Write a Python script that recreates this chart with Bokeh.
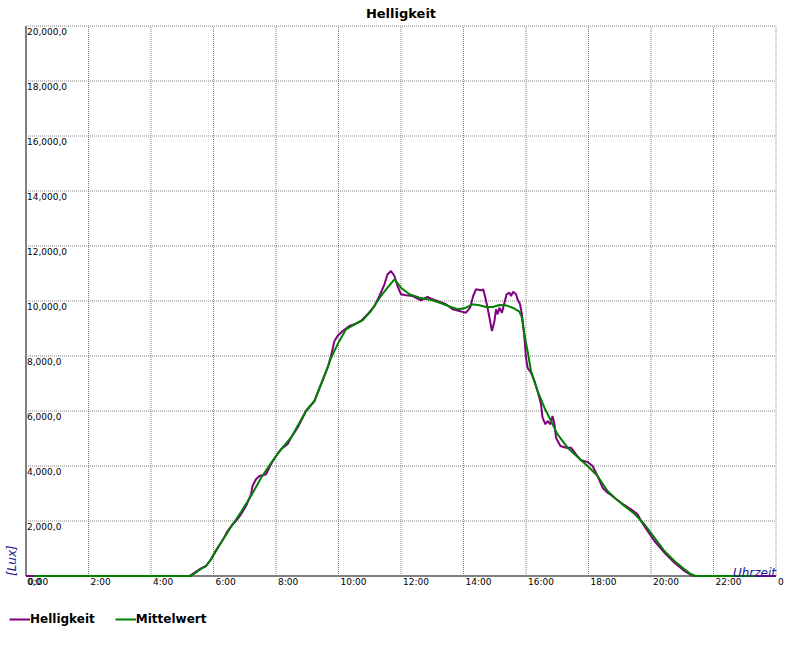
import math
from bokeh.plotting import figure
from bokeh.models import (Range1d, ColumnDataSource, LabelSet, Label, Legend, LegendItem)
from bokeh.core.properties import value
from bokeh.embed import file_html
from bokeh.resources import INLINE

# ---- data (hours of day, lux) ----
hell_t = [0.0, 5.22, 5.28, 5.60, 5.76, 5.92, 6.08, 6.24, 6.35, 6.45, 6.61, 6.72, 6.88, 7.04,
          7.20, 7.25, 7.36, 7.47, 7.57, 7.68, 7.84, 8.00, 8.16, 8.37, 8.48, 8.69, 8.96, 9.23,
          9.44, 9.65, 9.76, 9.87, 9.97, 10.13, 10.35, 10.56, 10.72, 10.93, 11.15, 11.31,
          11.47, 11.57, 11.68, 11.79, 11.89, 12.00, 12.16, 12.37, 12.64, 12.85, 13.01, 13.23,
          13.44, 13.65, 13.87, 14.08, 14.21, 14.31, 14.40, 14.56, 14.63, 14.70, 14.77, 14.85,
          14.91, 14.99, 15.04, 15.09, 15.15, 15.23, 15.31, 15.38, 15.47, 15.52, 15.59, 15.68,
          15.73, 15.81, 15.87, 15.95, 16.00, 16.05, 16.16, 16.27, 16.37, 16.48, 16.53, 16.62,
          16.69, 16.78, 16.85, 16.91, 16.96, 17.10, 17.28, 17.44, 17.60, 17.76, 17.97, 18.13,
          18.29, 18.45, 18.61, 18.72, 19.04, 19.36, 19.57, 19.68, 19.89, 20.11, 20.43, 20.75,
          21.07, 21.28, 21.38, 24.0]
hell_v = [0, 0, 36, 280, 364, 607, 909, 1211, 1418, 1636, 1880, 2000, 2243, 2545,
          2971, 3273, 3516, 3636, 3662, 3698, 4062, 4364, 4607, 4789, 5029, 5393, 6000, 6364,
          6971, 7574, 8000, 8545, 8727, 8909, 9091, 9174, 9273, 9516, 9818, 10182,
          10607, 10970, 11091, 10909, 10545, 10243, 10207, 10182, 10025, 10145, 10062, 9975,
          9880, 9698, 9636, 9575, 9756, 10182, 10425, 10389, 10425, 10120, 9756, 9273,
          8909, 9273, 9698, 9516, 9756, 9575, 9938, 10244, 10302, 10182, 10338, 10244,
          10062, 9880, 9516, 8665, 7938, 7574, 7392, 7091, 6727, 6243, 5756, 5516,
          5636, 5516, 5818, 5516, 5029, 4727, 4665, 4665, 4425, 4207, 4145, 4000,
          3636, 3211, 3029, 2945, 2665, 2425, 2243, 2000, 1636, 1273, 847, 484,
          182, 36, 0, 0]

mittel_t = [0.26, 5.28, 5.60, 5.76, 5.92, 6.08, 6.24, 6.56, 6.88, 7.20, 7.52, 7.84, 8.16,
            8.48, 8.96, 9.23, 9.44, 9.65, 9.76, 9.97, 10.24, 10.61, 10.77, 11.04, 11.36,
            11.57, 11.79, 12.00, 12.27, 12.59, 13.01, 13.33, 13.60, 13.81, 14.03, 14.29,
            14.51, 14.72, 14.93, 15.15, 15.36, 15.57, 15.79, 15.87, 15.95, 16.05, 16.16,
            16.37, 16.59, 16.80, 17.01, 17.33, 17.65, 17.97, 18.29, 18.61, 18.83, 19.15,
            19.47, 19.79, 20.11, 20.43, 20.75, 21.07, 21.28, 21.44, 23.30]
mittel_v = [0, 0, 255, 364, 607, 945, 1211, 1782, 2327, 2909, 3564, 4109, 4607,
            5029, 6000, 6364, 6971, 7574, 7927, 8425, 8970, 9210, 9298, 9636, 10182,
            10483, 10789, 10483, 10243, 10120, 10025, 9902, 9782, 9698, 9734, 9880,
            9843, 9782, 9782, 9855, 9843, 9756, 9611, 9393, 8789, 8182, 7455,
            6727, 6120, 5636, 5152, 4665, 4327, 4000, 3636, 3091, 2847, 2545,
            2265, 1880, 1393, 909, 545, 244, 62, 0, 0]

x_ticks = [0, 2, 4, 6, 8, 10, 12, 14, 16, 18, 20, 22, 24]
x_tick_labels = ["0:00", "2:00", "4:00", "6:00", "8:00", "10:00", "12:00", "14:00",
                 "16:00", "18:00", "20:00", "22:00", "0:00"]
y_ticks = [0, 2000, 4000, 6000, 8000, 10000, 12000, 14000, 16000, 18000, 20000]
y_tick_labels = ["0,0", "2,000,0", "4,000,0", "6,000,0", "8,000,0", "10,000,0",
                 "12,000,0", "14,000,0", "16,000,0", "18,000,0", "20,000,0"]
x_min, x_max = 0, 24
y_min, y_max = 0, 20000

FONT = "DejaVu Sans"
W, H = 784, 634
# plot area in pixels on the canvas
PL, PR, PT, PB = 25.5, 775.5, 25.5, 575.5
sx = (PR - PL) / (x_max - x_min)
sy = (PB - PT) / (y_max - y_min)

p = figure(width=W, height=H,
           x_range=Range1d(x_min - PL / sx, x_max + (W - PR) / sx),
           y_range=Range1d(y_min - (H - PB) / sy, y_max + PT / sy),
           output_backend="svg", toolbar_location=None,
           min_border_left=0, min_border_right=0, min_border_top=0, min_border_bottom=0)
p.axis.visible = False
p.grid.visible = False
p.outline_line_color = None
p.background_fill_color = "white"
p.border_fill_color = "white"

# dotted grid
gx = x_ticks[1:]
gy = y_ticks[1:]
p.segment(x0=gx, x1=gx, y0=[y_min] * len(gx), y1=[y_max] * len(gx),
          line_color="#808080", line_width=1, line_dash="1 1")
p.segment(x0=[x_min] * len(gy), x1=[x_max] * len(gy), y0=gy, y1=gy,
          line_color="#808080", line_width=1, line_dash="1 1")
# axis lines
p.segment(x0=[x_min, x_min], x1=[x_min, x_max], y0=[y_min, y_min], y1=[y_max, y_min],
          line_color="#808080", line_width=2)

r1 = p.line(hell_t, hell_v, line_color="#800080", line_width=2)
r2 = p.line(mittel_t, mittel_v, line_color="#008000", line_width=2)

xsrc = ColumnDataSource(dict(x=x_ticks, y=[y_min] * len(x_ticks), text=x_tick_labels))
p.add_layout(LabelSet(x="x", y="y", text="text", source=xsrc, x_offset=2, y_offset=-9,
                      text_font=value(FONT), text_font_size="9px", text_color="black",
                      text_align="left", text_baseline="alphabetic"))
ysrc = ColumnDataSource(dict(x=[x_min] * len(y_ticks), y=y_ticks, text=y_tick_labels))
p.add_layout(LabelSet(x="x", y="y", text="text", source=ysrc, x_offset=1, y_offset=-9,
                      text_font=value(FONT), text_font_size="9px", text_color="black",
                      text_align="left", text_baseline="alphabetic"))

p.add_layout(Label(x=(x_min + x_max) / 2, y=y_max, y_offset=12.5, text="Helligkeit",
                   text_font=FONT, text_font_size="13px", text_font_style="bold",
                   text_color="black", text_align="center", text_baseline="alphabetic"))
p.add_layout(Label(x=x_min, y=y_min, x_offset=-13.8, y_offset=0, angle=math.pi / 2,
                   text="[Lux]", text_font=FONT, text_font_size="12px",
                   text_font_style="italic", text_color="#202090",
                   text_align="left", text_baseline="alphabetic"))
p.add_layout(Label(x=x_max, y=y_min, y_offset=3, text="Uhrzeit", text_font=FONT,
                   text_font_size="12px", text_font_style="italic", text_color="#202090",
                   text_align="right", text_baseline="alphabetic"))

legend = Legend(items=[LegendItem(label="Helligkeit", renderers=[r1]),
                       LegendItem(label="Mittelwert", renderers=[r2])],
                location=(9, 8), orientation="horizontal",
                label_text_font=FONT, label_text_font_size="12px",
                label_text_font_style="bold", label_text_color="black",
                label_text_baseline="alphabetic",
                glyph_width=21, glyph_height=12, label_height=12, label_standoff=0,
                spacing=20, padding=0, margin=0, border_line_color=None,
                background_fill_alpha=0)
p.add_layout(legend)

open("out.html", "w").write(file_html(p, INLINE))
